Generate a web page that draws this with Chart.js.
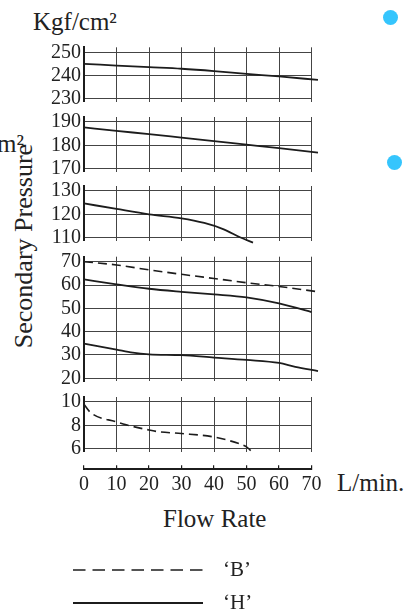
<!DOCTYPE html>
<html>
<head>
<meta charset="utf-8">
<script src="https://cdn.jsdelivr.net/npm/chart.js@4.4.1/dist/chart.umd.min.js"></script>
<style>
  body { margin: 0; background: #fff; }
  #wrap { position: relative; width: 405px; height: 611px; overflow: hidden;
          font-family: "Liberation Serif", "DejaVu Serif", serif; color: #222; }
  #wrap canvas { position: absolute; left: 0; }
  .t { position: absolute; white-space: nowrap; line-height: 1; font-size: 25px; }
  .dot { position: absolute; width: 15px; height: 15px; border-radius: 50%; background: #35c5fd; }
</style>
</head>
<body>
<div id="wrap">
  <div class="t" style="left:33px; top:9px;">Kgf/cm²</div>
  <div class="t" style="right:381px; top:131px;">Kgf/cm²</div>
  <div class="t" style="left:24px; top:246px; font-size:26px; transform:translate(-50%,-50%) rotate(-90deg);">Secondary Pressure</div>
  <div class="t" style="left:337px; top:470px;">L/min.</div>
  <div class="t" style="left:163px; top:506px;">Flow Rate</div>
  <div class="dot" style="left:383px; top:10px;"></div>
  <div class="dot" style="left:387px; top:155px;"></div>
</div>
<script>
// x axis (flow rate, L/min.)
const flowTicks = [0, 10, 20, 30, 40, 50, 60, 70];

// band 1
const p1Ticks = [230, 240, 250];
const p1Flow = [0, 10, 20, 30, 40, 50, 60, 72];
const p1H = [245, 244.3, 243.6, 242.9, 241.9, 240.7, 239.6, 238.1];

// band 2
const p2Ticks = [170, 180, 190];
const p2Flow = [0, 10, 20, 30, 40, 50, 60, 72];
const p2H = [187.7, 186.2, 184.8, 183.3, 181.8, 180.3, 178.8, 176.9];

// band 3
const p3Ticks = [110, 120, 130];
const p3Flow = [0, 10, 20, 30, 37, 43, 48, 52];
const p3H = [124.7, 122.3, 120, 118.3, 116.3, 113.6, 110.2, 107.9];

// band 4
const p4Ticks = [20, 30, 40, 50, 60, 70];
const p4FlowB = [0, 10, 20, 30, 40, 50, 60, 72];
const p4B = [70, 68.6, 66.5, 64.6, 62.8, 61, 59.4, 57.1];
const p4FlowHa = [0, 10, 20, 30, 40, 50, 60, 70, 72];
const p4Ha = [62.4, 60.3, 58.4, 57.1, 56, 54.7, 52.1, 48.4, 47.6];
const p4FlowHb = [0, 10, 15, 20, 30, 40, 50, 60, 65, 72];
const p4Hb = [34.9, 32.3, 31, 30.3, 29.9, 28.9, 27.9, 26.6, 24.9, 23.1];

// band 5
const p5Ticks = [6, 8, 10];
const p5Flow = [0, 2, 10, 13, 20, 23, 30, 40, 48, 50, 52];
const p5B = [9.8, 9.1, 8.3, 8.05, 7.6, 7.45, 7.3, 7.0, 6.4, 6.15, 5.65];

const seriesNames = ['\u2018B\u2019', '\u2018H\u2019'];

// layout (pixels)
const W = 405;
const PLOT_LEFT = 84;
const PLOT_RIGHT = 311.5;
const EXT_TOP = 5;
const EXT_BOT = 3;
const PAD = 12;
const INK = '#1c1c1c';
const GRID = '#444';
const FONT = { family: '"Liberation Serif", "DejaVu Serif", serif', size: 20 };

Chart.defaults.font.family = FONT.family;
Chart.defaults.color = '#222';

const wrap = document.getElementById('wrap');

function addCanvas(top, height) {
  const c = document.createElement('canvas');
  c.width = W;
  c.height = height;
  c.style.top = top + 'px';
  c.style.width = W + 'px';
  c.style.height = height + 'px';
  wrap.appendChild(c);
  return c;
}

function toPoints(xs, ys) {
  return xs.map((x, i) => ({ x: x, y: ys[i] }));
}

function lineSet(label, xs, ys, dashed) {
  return {
    label: label,
    data: toPoints(xs, ys),
    borderColor: INK,
    borderWidth: dashed ? 1.6 : 1.8,
    borderDash: dashed ? [9, 5] : [],
    pointRadius: 0,
    cubicInterpolationMode: 'monotone',
    clip: false,
    fill: false
  };
}

function makePanel(ticks, hiPx, loPx, datasets) {
  const perUnit = (loPx - hiPx) / (ticks[ticks.length - 1] - ticks[0]);
  const top = hiPx - EXT_TOP;
  const bottom = loPx + EXT_BOT;
  const canvasTop = Math.round(top) - PAD;
  const canvasH = Math.ceil(bottom) + PAD - canvasTop;
  const canvas = addCanvas(canvasTop, canvasH);

  return new Chart(canvas, {
    type: 'line',
    data: { datasets: datasets },
    options: {
      responsive: false,
      animation: false,
      layout: {
        padding: {
          left: 0,
          right: W - PLOT_RIGHT,
          top: top - canvasTop,
          bottom: canvasH - (bottom - canvasTop)
        }
      },
      plugins: { legend: { display: false }, tooltip: { enabled: false } },
      scales: {
        x: {
          type: 'linear',
          min: 0,
          max: 70,
          afterBuildTicks: s => { s.ticks = flowTicks.map(v => ({ value: v })); },
          afterFit: s => { s.height = 0; s.paddingLeft = 0; s.paddingRight = 0; },
          ticks: { display: false, autoSkip: false },
          grid: { color: GRID, lineWidth: 1, drawTicks: false },
          border: { display: false }
        },
        y: {
          type: 'linear',
          min: ticks[0] - EXT_BOT / perUnit,
          max: ticks[ticks.length - 1] + EXT_TOP / perUnit,
          afterBuildTicks: s => { s.ticks = ticks.map(v => ({ value: v })); },
          afterFit: s => { s.width = PLOT_LEFT; s.paddingTop = 0; s.paddingBottom = 0; },
          ticks: { font: FONT, color: '#222', padding: 3, autoSkip: false },
          grid: { color: GRID, lineWidth: 1, drawTicks: false },
          border: { color: INK, width: 2 }
        }
      }
    }
  });
}

makePanel(p1Ticks, 52.3, 98.7, [lineSet(seriesNames[1], p1Flow, p1H, false)]);
makePanel(p2Ticks, 122, 168.7, [lineSet(seriesNames[1], p2Flow, p2H, false)]);
makePanel(p3Ticks, 191, 237.7, [lineSet(seriesNames[1], p3Flow, p3H, false)]);
makePanel(p4Ticks, 261.7, 378.3, [
  lineSet(seriesNames[0], p4FlowB, p4B, true),
  lineSet(seriesNames[1], p4FlowHa, p4Ha, false),
  lineSet(seriesNames[1], p4FlowHb, p4Hb, false)
]);
makePanel(p5Ticks, 402, 448.7, [lineSet(seriesNames[0], p5Flow, p5B, true)]);

// shared flow-rate axis with the line key underneath
const AXIS_TOP = 440;
const AXIS_H = 611 - AXIS_TOP;
const AXIS_Y = 469.3 - AXIS_TOP;
const TICK_UP = 4;
const AXIS_BOX = 30;

const lineKey = {
  id: 'lineKey',
  afterDraw(chart) {
    const ctx = chart.ctx;
    const rows = [130, 163];
    ctx.save();
    chart.data.datasets.forEach((ds, i) => {
      const y = rows[i];
      ctx.beginPath();
      ctx.strokeStyle = INK;
      ctx.lineWidth = ds.borderDash.length ? 1.5 : 2.2;
      ctx.setLineDash(ds.borderDash.length ? [12.5, 7] : []);
      ctx.moveTo(73, y);
      ctx.lineTo(203, y);
      ctx.stroke();
      ctx.setLineDash([]);
      ctx.fillStyle = '#222';
      ctx.font = '21px ' + FONT.family;
      ctx.textAlign = 'left';
      ctx.textBaseline = 'alphabetic';
      ctx.fillText(ds.label, 223, y + 5.5);
    });
    ctx.restore();
  }
};

new Chart(addCanvas(AXIS_TOP, AXIS_H), {
  type: 'line',
  data: {
    datasets: [
      { label: seriesNames[0], data: [], borderDash: [9, 5] },
      { label: seriesNames[1], data: [], borderDash: [] }
    ]
  },
  options: {
    responsive: false,
    animation: false,
    layout: {
      padding: {
        left: PLOT_LEFT,
        right: W - PLOT_RIGHT,
        top: AXIS_Y - TICK_UP,
        bottom: AXIS_H - AXIS_Y - AXIS_BOX
      }
    },
    plugins: { legend: { display: false }, tooltip: { enabled: false } },
    scales: {
      x: {
        type: 'linear',
        min: 0,
        max: 70,
        afterBuildTicks: s => { s.ticks = flowTicks.map(v => ({ value: v })); },
        afterFit: s => { s.height = AXIS_BOX; s.paddingLeft = 0; s.paddingRight = 0; },
        ticks: { font: FONT, color: '#222', padding: 3, maxRotation: 0, autoSkip: false },
        grid: { color: INK, lineWidth: 1.2, drawTicks: false },
        border: { color: INK, width: 2 }
      },
      y: { display: false, min: 0, max: 1 }
    }
  },
  plugins: [lineKey]
});
</script>
</body>
</html>
